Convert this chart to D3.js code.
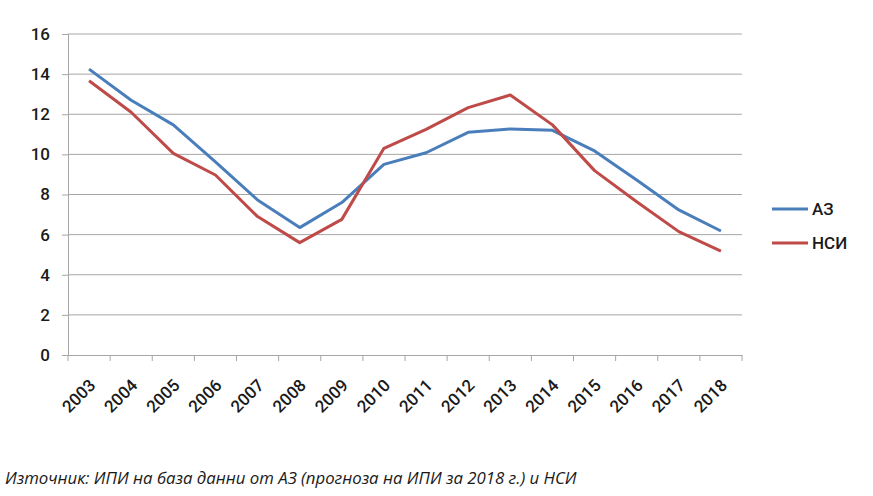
<!DOCTYPE html>
<html>
<head>
<meta charset="utf-8">
<script src="https://cdn.jsdelivr.net/npm/d3@7"></script>
<style>
  body { margin: 0; background: #fff; }
  svg text { font-family: Roboto, "DejaVu Sans Condensed", sans-serif; }
</style>
</head>
<body>
<svg id="chart" width="873" height="496"></svg>
<script>
const years = ["2003", "2004", "2005", "2006", "2007", "2008", "2009", "2010",
    "2011", "2012", "2013", "2014", "2015", "2016", "2017", "2018"];
const seriesNames = ["АЗ", "НСИ"];
const azValues = [14.25, 12.7, 11.47, 9.62, 7.73, 6.35, 7.6, 9.5,
    10.08, 11.1, 11.27, 11.2, 10.17, 8.72, 7.23, 6.18];
const nsiValues = [13.67, 12.1, 10.05, 8.97, 6.9, 5.6, 6.76, 10.3,
    11.25, 12.33, 12.96, 11.47, 9.19, 7.64, 6.15, 5.18];
const yTicks = [0, 2, 4, 6, 8, 10, 12, 14, 16];
const sourceNote = "Източник: ИПИ на база данни от АЗ (прогноза на ИПИ за 2018 г.) и НСИ";

(function() {
    const svg = d3.select("#chart");
    const margin = {left: 68, top: 34, right: 131, bottom: 141};
    const width = 873 - margin.left - margin.right,
        height = 496 - margin.top - margin.bottom;

    const g = svg.append("g")
        .attr("transform", `translate(${margin.left},${margin.top})`);

    const x = d3.scaleBand().domain(years).range([0, width]);
    const y = d3.scaleLinear().domain([0, 16]).range([height, 0]);

    const color = d3.scaleOrdinal().domain(seriesNames).range(["#4a7ebb", "#be4b48"]);

    // gridlines
    g.append("g")
        .selectAll("line")
        .data(yTicks.filter(d => d > 0))
        .join("line")
        .attr("x1", 0)
        .attr("x2", width)
        .attr("y1", d => y(d))
        .attr("y2", d => y(d))
        .attr("stroke", "#a6a6a6")
        .attr("stroke-width", 1);

    const yAxis = g.append("g")
        .call(d3.axisLeft(y).tickValues(yTicks).tickSize(6).tickPadding(12));
    yAxis.selectAll("path, line").attr("stroke", "#a6a6a6");
    yAxis.selectAll("text")
        .attr("fill", "#1a1a1a")
        .style("font-size", "17px")
        .style("font-weight", "500");

    const xAxis = g.append("g")
        .attr("transform", `translate(0,${height})`)
        .call(d3.axisBottom(x).tickSizeOuter(0).tickSize(0).tickFormat(""));
    xAxis.selectAll("path").attr("stroke", "#a6a6a6");

    // tick marks between categories
    g.append("g")
        .selectAll("line")
        .data(d3.range(years.length + 1))
        .join("line")
        .attr("x1", i => i * x.step())
        .attr("x2", i => i * x.step())
        .attr("y1", height)
        .attr("y2", height + 6)
        .attr("stroke", "#a6a6a6");

    g.append("g")
        .selectAll("text")
        .data(years)
        .join("text")
        .attr("transform", d => `translate(${x(d) + x.bandwidth() / 2 - 1},${height + 23}) rotate(-45)`)
        .attr("text-anchor", "end")
        .attr("dy", "0.7em")
        .attr("fill", "#1a1a1a")
        .style("font-size", "17px")
        .style("font-weight", "500")
        .text(d => d);

    const series = [
        {name: seriesNames[0], values: azValues},
        {name: seriesNames[1], values: nsiValues}
    ];

    const line = d3.line()
        .x((d, i) => x(years[i]) + x.bandwidth() / 2)
        .y(d => y(d));

    g.selectAll(".series")
        .data(series)
        .join("path")
        .attr("class", "series")
        .attr("fill", "none")
        .attr("stroke", d => color(d.name))
        .attr("stroke-width", 3)
        .attr("stroke-linejoin", "round")
        .attr("d", d => line(d.values));

    const legend = svg.append("g")
        .attr("transform", "translate(772,209)")
        .selectAll("g")
        .data(seriesNames)
        .join("g")
        .attr("transform", (d, i) => `translate(0,${i * 34})`);

    legend.append("line")
        .attr("x1", 0)
        .attr("x2", 36)
        .attr("stroke", color)
        .attr("stroke-width", 3);

    legend.append("text")
        .attr("x", 40)
        .attr("dy", "0.36em")
        .attr("fill", "#1a1a1a")
        .style("font-size", "17px")
        .style("font-weight", "500")
        .text(d => d);

    const note = svg.append("text")
        .attr("x", 5)
        .attr("y", 484)
        .attr("fill", "#1a1a1a")
        .style("font-family", "'Open Sans', sans-serif")
        .style("font-style", "italic")
        .style("font-size", "15px")
        .text(sourceNote);
    const w = note.node().getComputedTextLength();
    note.style("font-size", (15 * 572 / w) + "px");
})();
</script>
</body>
</html>
